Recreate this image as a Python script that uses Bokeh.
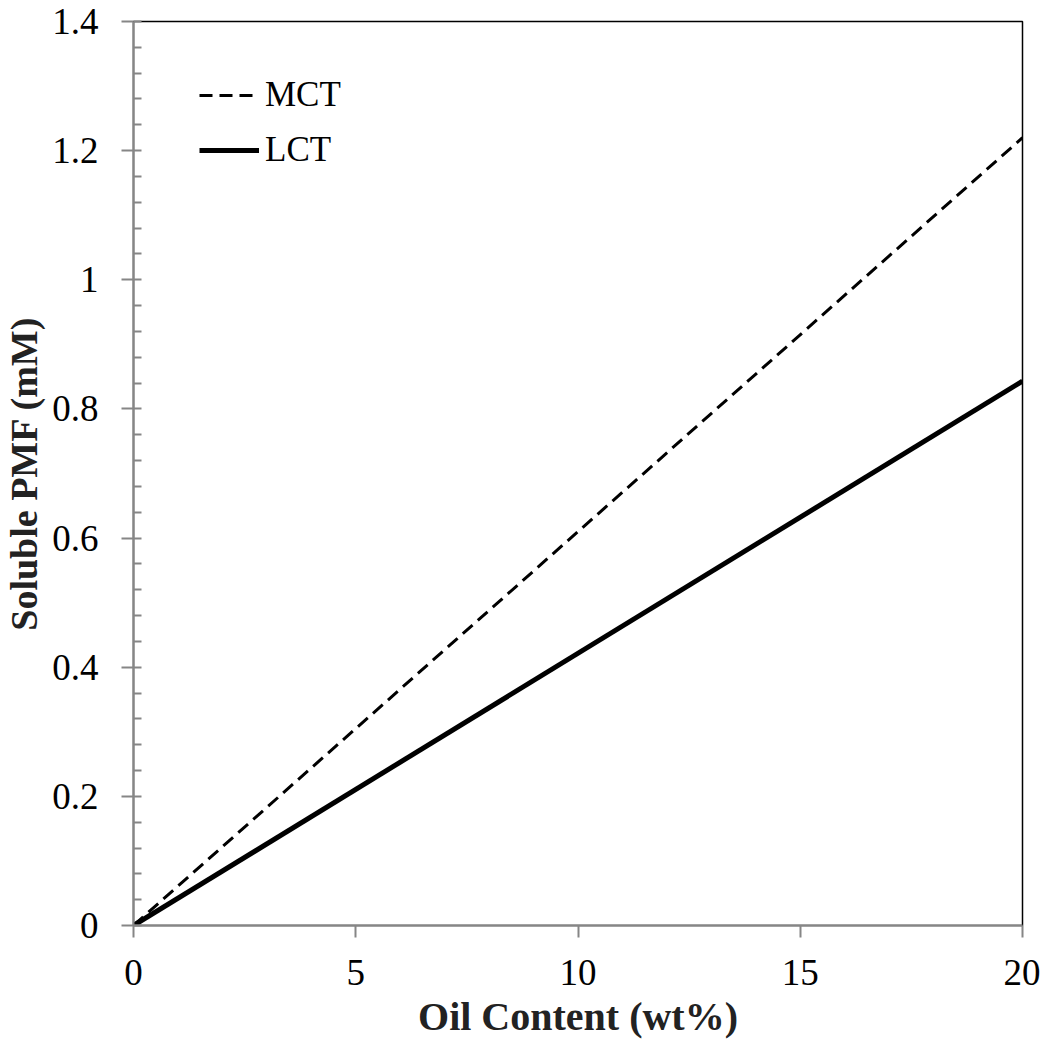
from bokeh.plotting import figure
from bokeh.models import FixedTicker, CustomJSTickFormatter, Legend, LegendItem
from bokeh.embed import file_html
from bokeh.resources import INLINE

# ---- data ----
oil_content = [0, 20]
mct_pmf = [0, 1.22]
lct_pmf = [0, 0.843]
series_names = ["MCT", "LCT"]
x_ticks = [0, 5, 10, 15, 20]
y_ticks = [0, 0.2, 0.4, 0.6, 0.8, 1.0, 1.2, 1.4]
x_title = "Oil Content (wt%)"
y_title = "Soluble PMF (mM)"

FONT = "Liberation Serif"
AXIS_GRAY = "#868686"

p = figure(width=1040, height=1048, output_backend="svg", toolbar_location=None,
           x_range=(0, 20), y_range=(0, 1.4),
           min_border_left=132, min_border_top=21, min_border_right=18, min_border_bottom=123)
p.xgrid.visible = False
p.ygrid.visible = False
p.outline_line_color = "black"
p.outline_line_width = 1.5
p.background_fill_color = "white"
p.border_fill_color = "white"

l_lct = p.line(oil_content, lct_pmf, line_color="black", line_width=5)
l_mct = p.line(oil_content, mct_pmf, line_color="black", line_width=3, line_dash="13 7")

minor_y = [round(i * 0.04, 2) for i in range(0, 36)]
p.yaxis.ticker = FixedTicker(ticks=y_ticks, minor_ticks=minor_y)
p.xaxis.ticker = FixedTicker(ticks=x_ticks, minor_ticks=[])
fmt = CustomJSTickFormatter(code="var s = tick.toFixed(1); return s.endsWith('.0') ? s.slice(0, -2) : s;")
p.yaxis.formatter = fmt

for ax in (p.xaxis[0], p.yaxis[0]):
    ax.axis_line_color = AXIS_GRAY
    ax.axis_line_width = 2
    ax.major_tick_line_color = AXIS_GRAY
    ax.major_tick_line_width = 2
    ax.minor_tick_line_color = AXIS_GRAY
    ax.minor_tick_line_width = 2
    ax.major_tick_out = 12
    ax.major_tick_in = 0
    ax.major_label_text_font = FONT
    ax.major_label_text_font_size = "37px"
    ax.major_label_text_color = "black"
    ax.axis_label_text_font = FONT
    ax.axis_label_text_font_style = "bold"
    ax.axis_label_text_color = "#222222"

p.yaxis.minor_tick_in = 8
p.yaxis.minor_tick_out = 0
p.xaxis.minor_tick_in = 0
p.xaxis.minor_tick_out = 0
p.xaxis.major_label_standoff = 22
p.yaxis.major_label_standoff = 23

p.xaxis.axis_label = x_title
p.yaxis.axis_label = y_title
p.xaxis.axis_label_text_font_size = "40px"
p.yaxis.axis_label_text_font_size = "38px"
p.xaxis.axis_label_standoff = 6
p.yaxis.axis_label_standoff = 4

legend = Legend(items=[LegendItem(label=series_names[0], renderers=[l_mct]),
                       LegendItem(label=series_names[1], renderers=[l_lct])],
                location=(66, 904 - 54 - 95), orientation="vertical")
legend.border_line_color = None
legend.background_fill_alpha = 0
legend.padding = 0
legend.margin = 0
legend.spacing = 15
legend.glyph_width = 60
legend.glyph_height = 40
legend.label_height = 40
legend.label_standoff = 6
legend.label_text_font = FONT
legend.label_text_font_size = "35px"
legend.label_text_color = "black"
p.add_layout(legend)

open("out.html", "w").write(file_html(p, INLINE))
